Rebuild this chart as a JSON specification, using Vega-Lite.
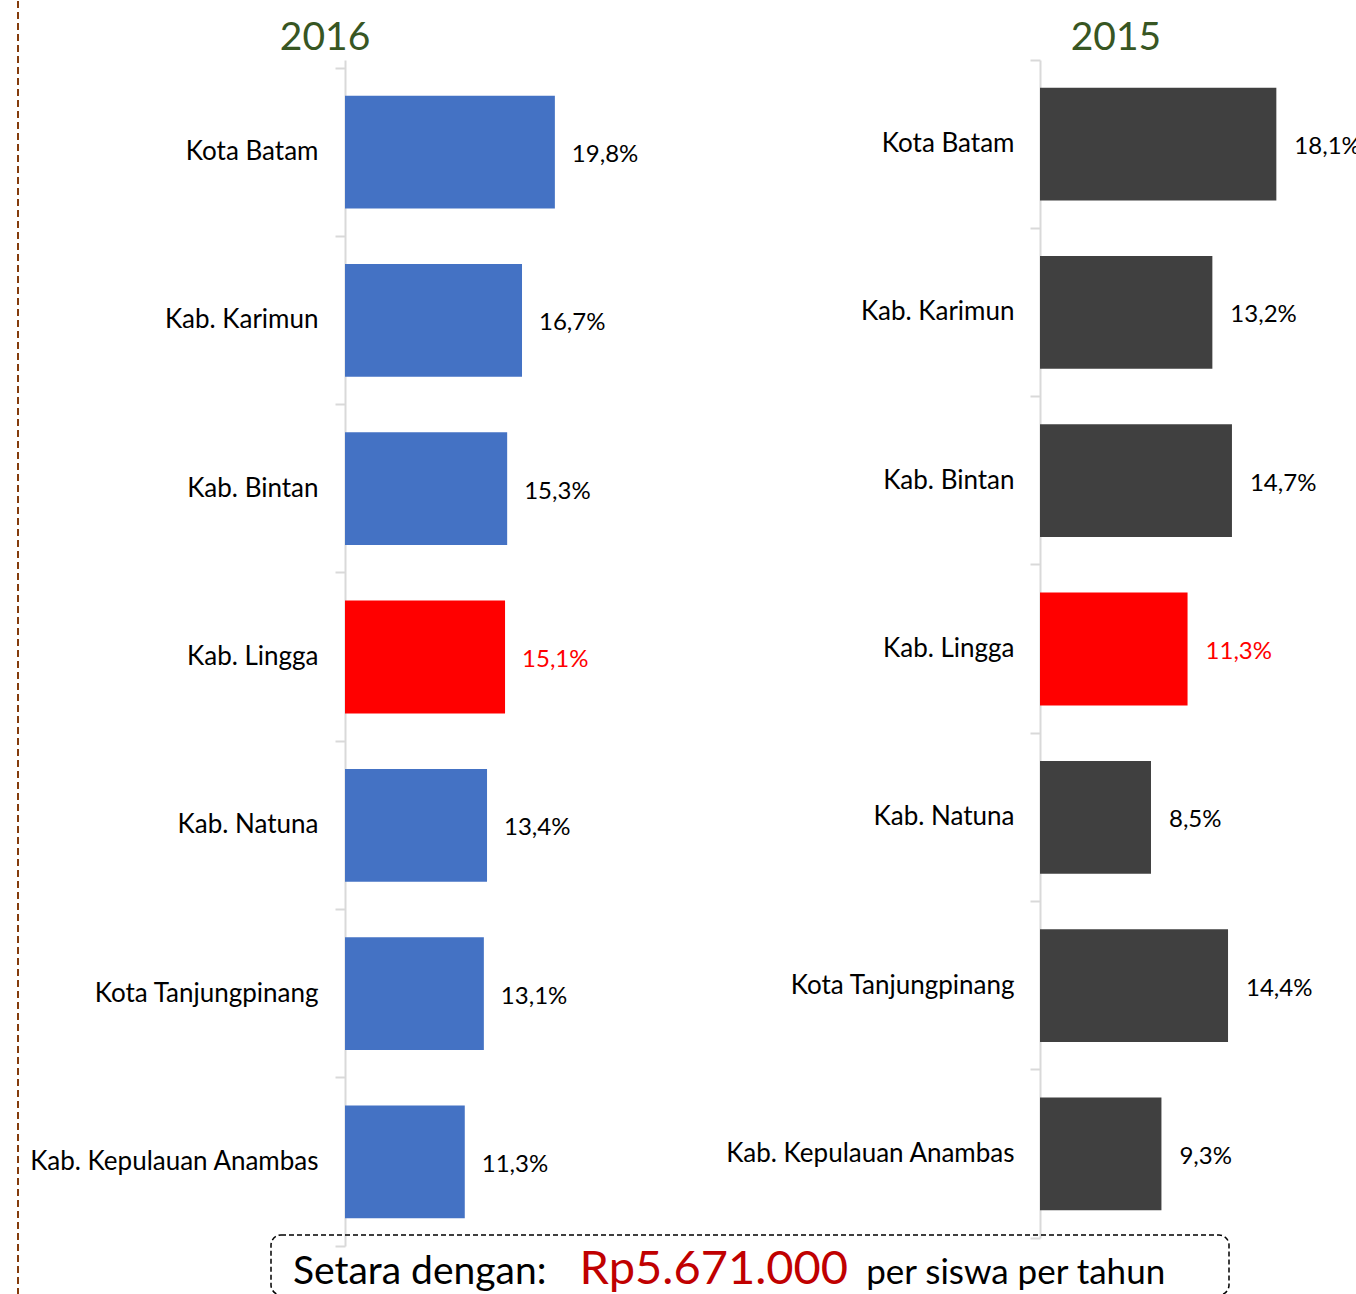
{
  "$schema": "https://vega.github.io/schema/vega-lite/v6.json",
  "background": "#ffffff",
  "padding": {"left": 17, "top": 0, "right": -5, "bottom": -2},
  "config": {
    "font": "Lato",
    "view": {"stroke": null},
    "locale": {"number": {"decimal": ",", "thousands": ".", "grouping": [3], "currency": ["Rp", ""]}},
    "text": {"font": "Lato"},
    "axis": {"labelFont": "Lato"}
  },
  "datasets": {
    "tahun2016": [
      {"wilayah": "Kota Batam", "persen": 0.198},
      {"wilayah": "Kab. Karimun", "persen": 0.167},
      {"wilayah": "Kab. Bintan", "persen": 0.153},
      {"wilayah": "Kab. Lingga", "persen": 0.151},
      {"wilayah": "Kab. Natuna", "persen": 0.134},
      {"wilayah": "Kota Tanjungpinang", "persen": 0.131},
      {"wilayah": "Kab. Kepulauan Anambas", "persen": 0.113}
    ],
    "tahun2015": [
      {"wilayah": "Kota Batam", "persen": 0.181},
      {"wilayah": "Kab. Karimun", "persen": 0.132},
      {"wilayah": "Kab. Bintan", "persen": 0.147},
      {"wilayah": "Kab. Lingga", "persen": 0.113},
      {"wilayah": "Kab. Natuna", "persen": 0.085},
      {"wilayah": "Kota Tanjungpinang", "persen": 0.144},
      {"wilayah": "Kab. Kepulauan Anambas", "persen": 0.093}
    ],
    "judul": [{"tahun": "2016"}, {"tahun": "2015"}],
    "catatan": [
      {"bagian": "Setara dengan:"},
      {"bagian": "Rp5.671.000"},
      {"bagian": "per siswa per tahun"}
    ],
    "kosong": []
  },
  "bounds": "flush",
  "spacing": 252,
  "hconcat": [
    {
      "width": 1,
      "height": 1294,
      "data": {"values": [{}]},
      "mark": {"type": "rule", "color": "#843C0C", "strokeWidth": 2, "strokeDash": [7, 4]},
      "encoding": {"x": {"datum": 0, "type": "quantitative", "scale": {"domain": [0, 1]}, "axis": null}}
    },
    {
      "bounds": "flush",
      "spacing": 0,
      "vconcat": [
        {
          "width": 899,
          "height": 59,
          "data": {"name": "judul"},
          "mark": {"type": "text", "fontSize": 39, "color": "#375623", "baseline": "middle", "dy": 7},
          "encoding": {
            "x": {"field": "tahun", "type": "nominal", "sort": null, "scale": {"type": "point", "padding": 0.0683}, "axis": null},
            "text": {"field": "tahun"}
          }
        },
        {
          "bounds": "flush",
          "spacing": 1175,
          "vconcat": [
            {
              "bounds": "flush",
              "spacing": 0,
              "hconcat": [
                {
                  "width": 74,
                  "height": 10,
                  "data": {"name": "kosong"},
                  "mark": "point",
                  "encoding": {}
                },
                {
                  "width": 695,
                  "height": 1186,
                  "data": {"name": "tahun2016"},
                  "encoding": {
                    "y": {
                      "field": "wilayah",
                      "type": "nominal",
                      "sort": null,
                      "scale": {"paddingInner": 0, "paddingOuter": 0.02377, "align": 1},
                      "axis": {
                        "title": null,
                        "domainColor": "#D9D9D9",
                        "domainWidth": 2,
                        "tickColor": "#D9D9D9",
                        "tickWidth": 2,
                        "tickSize": 10,
                        "bandPosition": 1,
                        "tickExtra": true,
                        "labelFontSize": 26,
                        "labelColor": "#000000",
                        "labelPadding": 17,
                        "labelLimit": 500
                      }
                    },
                    "x": {"field": "persen", "type": "quantitative", "scale": {"domain": [0, 0.6557], "nice": false}, "axis": null}
                  },
                  "layer": [
                    {
                      "mark": {"type": "bar", "height": {"band": 0.67}},
                      "encoding": {
                        "color": {"condition": {"test": "datum.wilayah === 'Kab. Lingga'", "value": "#FF0000"}, "value": "#4472C4"}
                      }
                    },
                    {
                      "mark": {"type": "text", "align": "left", "baseline": "middle", "dx": 17, "dy": 3, "fontSize": 24},
                      "encoding": {
                        "text": {"field": "persen", "type": "quantitative", "format": ".1%"},
                        "color": {"condition": {"test": "datum.wilayah === 'Kab. Lingga'", "value": "#FF0000"}, "value": "#000000"}
                      }
                    }
                  ]
                },
                {
                  "width": 316,
                  "height": 1178,
                  "data": {"name": "tahun2015"},
                  "encoding": {
                    "y": {
                      "field": "wilayah",
                      "type": "nominal",
                      "sort": null,
                      "scale": {"paddingInner": 0, "paddingOuter": 0},
                      "axis": {
                        "title": null,
                        "domainColor": "#D9D9D9",
                        "domainWidth": 2,
                        "tickColor": "#D9D9D9",
                        "tickWidth": 2,
                        "tickSize": 10,
                        "bandPosition": 1,
                        "tickExtra": true,
                        "labelFontSize": 26,
                        "labelColor": "#000000",
                        "labelPadding": 16,
                        "labelLimit": 500
                      }
                    },
                    "x": {"field": "persen", "type": "quantitative", "scale": {"domain": [0, 0.242], "nice": false}, "axis": null}
                  },
                  "layer": [
                    {
                      "mark": {"type": "bar", "height": {"band": 0.67}},
                      "encoding": {
                        "color": {"condition": {"test": "datum.wilayah === 'Kab. Lingga'", "value": "#FF0000"}, "value": "#404040"}
                      }
                    },
                    {
                      "mark": {"type": "text", "align": "left", "baseline": "middle", "dx": 18, "dy": 3, "fontSize": 24},
                      "encoding": {
                        "text": {"field": "persen", "type": "quantitative", "format": ".1%"},
                        "color": {"condition": {"test": "datum.wilayah === 'Kab. Lingga'", "value": "#FF0000"}, "value": "#000000"}
                      }
                    }
                  ]
                }
              ]
            },
            {
              "width": 958,
              "height": 60,
              "view": {"stroke": "#000000", "strokeWidth": 1.5, "strokeDash": [5, 3], "cornerRadius": 10},
              "data": {"name": "catatan"},
              "mark": {"type": "text", "align": "left", "baseline": "alphabetic", "dx": 22, "dy": 19},
              "encoding": {
                "x": {"field": "bagian", "type": "nominal", "sort": null, "scale": {"type": "point", "padding": 0.6713, "align": 0}, "axis": null},
                "text": {"field": "bagian"},
                "color": {"condition": {"test": "datum.bagian === 'Rp5.671.000'", "value": "#C00000"}, "value": "#000000"},
                "size": {
                  "condition": [
                    {"test": "datum.bagian === 'Rp5.671.000'", "value": 47},
                    {"test": "datum.bagian === 'per siswa per tahun'", "value": 35}
                  ],
                  "value": 39
                }
              }
            }
          ]
        }
      ]
    }
  ]
}
